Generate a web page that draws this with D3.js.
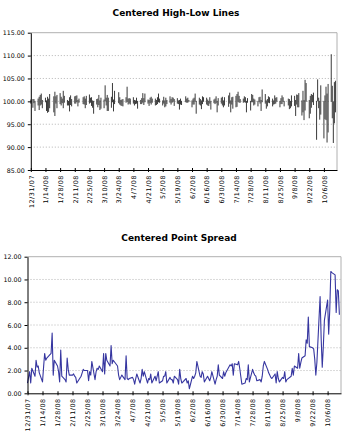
<!DOCTYPE html>
<html>
<head>
<meta charset="utf-8">
<script src="https://cdn.jsdelivr.net/npm/d3@7"></script>
<style>
  body { margin: 0; background: #fff; }
  svg { display: block; }
</style>
</head>
<body>
<svg id="chart" width="350" height="440"></svg>
<script>
// Trading calendar: weekdays from the first to the last session, market holidays skipped
const firstSession = "2007-12-31";
const lastSession = "2008-10-17";
const holidays = ["2008-01-01", "2008-01-21", "2008-02-18", "2008-03-21", "2008-05-26", "2008-07-04", "2008-09-01"];
const tickStepDays = 14;

const highLowTicks = [85, 90, 95, 100, 105, 110, 115];
const spreadTicks = [0, 2, 4, 6, 8, 10, 12];

// Daily high and low, centered on the open (= 100), one row per month
const highs = [
  100.4,100.5,100.5,100.1,100.6,101.0,101.4,101.7,100.3,100.8,100.2,101.0,100.6,101.6,101.1,102.1,101.1,101.4,101.8,101.0,100.6,102.3,
  101.2,100.3,100.1,100.9,101.3,100.5,101.1,101.2,101.3,100.3,100.6,100.9,101.1,100.6,101.2,101.5,100.8,100.9,100.2,100.1,
  100.5,100.6,101.4,100.2,100.8,100.4,103.5,100.8,101.4,100.8,101.0,104.0,100.4,102.3,102.0,100.9,100.3,100.4,100.5,100.9,
  103.2,100.6,100.7,100.6,100.9,100.3,100.2,100.8,100.1,100.3,100.7,101.8,100.7,101.7,100.4,100.3,100.8,101.0,100.6,100.6,100.3,100.9,
  101.7,100.6,100.2,101.0,100.2,100.8,100.3,101.1,100.5,100.9,100.8,100.5,100.7,100.2,100.3,100.6,100.1,101.1,100.6,100.8,100.3,
  100.2,100.6,100.8,101.7,100.1,100.8,100.5,100.2,101.1,100.9,100.8,100.4,100.1,100.9,100.1,100.4,100.6,101.1,100.1,100.7,100.8,
  101.0,100.2,100.9,101.3,101.9,100.2,100.9,101.0,101.2,101.6,102.1,101.2,100.5,100.6,101.1,100.9,100.1,100.7,100.1,101.6,101.4,100.6,
  100.4,100.1,100.9,101.0,100.3,102.6,101.6,100.2,100.5,101.1,100.9,100.6,100.2,101.3,100.8,100.9,100.1,100.7,101.3,100.9,100.1,
  100.6,100.5,100.1,101.3,101.2,100.3,101.5,101.4,101.8,100.2,102.3,100.3,104.7,104.0,100.3,101.2,101.6,101.4,101.9,100.1,104.8,
  100.8,100.1,103.5,100.1,101.3,103.2,101.7,103.8,110.3,103.4,100.0,104.2,104.5
];
const lows = [
  99.5,98.6,99.6,97.9,99.1,98.1,99.1,99.3,98.5,99.8,97.9,97.5,97.7,98.5,97.6,96.8,99.5,98.5,99.4,99.1,99.6,98.5,
  99.7,99.1,99.1,97.8,99.2,98.9,99.5,99.5,99.8,98.9,99.7,99.4,99.3,98.5,99.2,99.5,99.7,99.0,98.6,97.3,
  99.3,98.7,99.2,98.1,98.4,98.5,100.0,99.1,97.9,97.9,98.6,99.8,97.8,99.4,99.6,99.3,99.1,99.0,98.9,99.7,
  99.9,99.3,99.5,99.3,99.5,99.1,99.4,99.5,98.4,99.4,99.4,99.7,99.2,99.8,99.5,99.0,99.6,99.3,99.7,99.1,99.2,99.4,
  99.8,99.7,99.1,99.5,98.7,98.9,99.4,99.7,99.3,99.7,99.9,99.0,99.5,99.4,98.2,99.3,99.2,99.8,99.7,99.7,99.9,
  98.7,99.3,99.3,99.9,97.3,99.3,99.1,98.3,99.4,99.9,99.3,99.1,99.0,99.5,98.2,99.6,99.4,99.6,97.6,99.1,99.5,
  99.1,98.7,99.1,98.8,99.5,97.6,99.3,98.4,98.7,98.8,99.9,99.7,99.7,99.7,99.8,99.7,97.6,99.7,98.0,99.8,99.8,99.1,
  99.3,98.9,99.9,99.5,97.9,99.8,99.5,98.4,98.9,99.7,99.6,98.9,99.3,99.4,99.5,99.9,98.7,99.4,99.4,99.9,98.9,
  99.1,98.3,98.5,98.9,99.0,96.8,99.3,98.7,98.7,96.9,97.6,95.9,98.0,99.9,96.3,97.3,98.6,99.8,99.2,91.6,100.0,
  98.5,96.0,97.1,91.9,96.1,95.9,91.0,93.2,99.9,96.3,90.9,95.2,97.6
];

// Daily spread between high and low
const spread = [
  0.9,1.9,0.9,2.2,1.5,2.9,2.3,2.4,1.8,1.0,2.3,3.5,2.9,3.1,3.5,5.3,1.6,2.9,2.4,1.9,1.0,3.8,
  1.5,1.2,1.0,3.1,2.1,1.6,1.6,1.7,1.5,1.4,0.9,1.5,1.8,2.1,2.0,2.0,1.1,1.9,1.6,2.8,
  1.2,1.9,2.2,2.1,2.4,1.9,3.5,1.7,3.5,2.9,2.4,4.2,2.6,2.9,2.4,1.6,1.2,1.4,1.6,1.2,
  3.3,1.3,1.2,1.3,1.4,1.2,0.8,1.3,1.7,0.9,1.3,2.1,1.5,1.9,0.9,1.3,1.2,1.7,0.9,1.5,1.1,1.5,
  1.9,0.9,1.1,1.5,1.5,1.9,0.9,1.4,1.2,1.2,0.9,1.5,1.2,0.8,2.1,1.3,0.9,1.3,0.9,1.1,0.4,
  1.5,1.3,1.5,1.8,2.8,1.5,1.4,1.9,1.7,1.0,1.5,1.3,1.1,1.4,1.9,0.8,1.2,1.5,2.5,1.6,1.3,
  1.9,1.5,1.8,2.5,2.4,2.6,1.6,2.6,2.5,2.8,2.2,1.5,0.8,0.9,1.3,1.2,2.5,1.0,2.1,1.8,1.6,1.5,
  1.1,1.2,1.0,1.5,2.4,2.8,2.1,1.8,1.6,1.4,1.3,1.7,0.9,1.9,1.3,1.0,1.4,1.3,1.9,1.0,1.2,
  1.5,2.2,1.6,2.4,2.2,3.5,2.2,2.7,3.1,3.3,4.7,4.4,6.7,4.1,4.0,3.9,3.0,1.6,2.7,8.5,4.8,
  2.3,4.1,6.4,8.2,5.2,7.3,10.7,10.6,10.4,7.1,9.1,9.0,6.9
];

const parseDay = d3.timeParse("%Y-%m-%d");
const fmtDay = d3.timeFormat("%-m/%-d/%y");
const closed = new Set(holidays);
const sessions = d3.timeDay.range(parseDay(firstSession), d3.timeDay.offset(parseDay(lastSession), 1))
  .filter(d => d.getDay() !== 0 && d.getDay() !== 6 && !closed.has(d3.timeFormat("%Y-%m-%d")(d)));

// the date axis runs a little past the final session
const axisStart = parseDay(firstSession);
const axisEnd = d3.timeHour.offset(parseDay(lastSession), 36);
const tickDates = d3.range(0, 21).map(k => d3.timeDay.offset(axisStart, k * tickStepDays));

const svg = d3.select("#chart");
const font = "'DejaVu Sans', Verdana, sans-serif";

function frame(g, y, yTicks, box) {
  // dotted gridlines
  g.append("g").selectAll("line")
    .data(yTicks.slice(1, -1))
    .join("line")
    .attr("x1", box.left).attr("x2", box.right)
    .attr("y1", d => y(d)).attr("y2", d => y(d))
    .attr("stroke", "#b4b4b4").attr("stroke-width", 1)
    .attr("stroke-dasharray", "1 2");
  // plot border (top and right)
  g.append("path")
    .attr("d", `M${box.left},${box.top}H${box.right}V${box.bottom}`)
    .attr("fill", "none").attr("stroke", "#b0b0b0").attr("stroke-width", 1);
}

function axes(g, x, y, yTicks, box) {
  const ya = g.append("g")
    .attr("transform", `translate(${box.left},0)`)
    .call(d3.axisLeft(y).tickValues(yTicks).tickFormat(d3.format(".2f"))
      .tickSizeInner(3).tickSizeOuter(0).tickPadding(3));
  ya.select(".domain").attr("stroke", "#000");
  ya.selectAll(".tick line").attr("stroke", "#000");
  ya.selectAll("text").attr("font-family", font).attr("font-size", "6.3px").attr("fill", "#000");

  const xa = g.append("g")
    .attr("transform", `translate(0,${box.bottom})`)
    .call(d3.axisBottom(x).tickValues(tickDates).tickFormat(fmtDay).tickSizeInner(2).tickSizeOuter(0));
  xa.select(".domain").attr("stroke", "#000");
  xa.selectAll(".tick line").attr("y1", -2).attr("y2", 2).attr("stroke", "#000");
  xa.selectAll("text")
    .attr("font-family", font).attr("font-size", "6.4px").attr("fill", "#000")
    .attr("letter-spacing", "0.55px")
    .attr("text-anchor", "end")
    .attr("transform", "rotate(-90)")
    .attr("x", -5).attr("y", 0).attr("dy", "0.35em");
}

// ---- Centered High-Low Lines ----
{
  const box = { left: 30.8, right: 337, top: 32.7, bottom: 170 };
  const x = d3.scaleTime().domain([axisStart, axisEnd]).range([box.left, box.right]);
  const y = d3.scaleLinear().domain([85, 115]).range([box.bottom, box.top]);
  const g = svg.append("g");

  g.append("text")
    .attr("x", 176).attr("y", 16)
    .attr("text-anchor", "middle")
    .attr("font-family", font).attr("font-size", "9px").attr("font-weight", "bold")
    .text("Centered High-Low Lines");

  frame(g, y, highLowTicks, box);

  g.append("g").selectAll("line")
    .data(sessions)
    .join("line")
    .attr("x1", d => x(d)).attr("x2", d => x(d))
    .attr("y1", (d, i) => y(highs[i])).attr("y2", (d, i) => y(lows[i]))
    .attr("stroke", "#3a3a3a").attr("stroke-width", 1);

  axes(g, x, y, highLowTicks, box);
}

// ---- Centered Point Spread ----
{
  const box = { left: 27.5, right: 341, top: 256.7, bottom: 393.3 };
  const x = d3.scaleTime().domain([axisStart, axisEnd]).range([box.left, box.right]);
  const y = d3.scaleLinear().domain([0, 12]).range([box.bottom, box.top]);
  const g = svg.append("g");

  g.append("text")
    .attr("x", 179).attr("y", 241)
    .attr("text-anchor", "middle")
    .attr("font-family", font).attr("font-size", "9px").attr("font-weight", "bold")
    .text("Centered Point Spread");

  frame(g, y, spreadTicks, box);

  g.append("path")
    .datum(spread)
    .attr("d", d3.line().x((d, i) => x(sessions[i])).y(d => y(d)))
    .attr("fill", "none").attr("stroke", "#3636a0").attr("stroke-width", 1.1)
    .attr("stroke-linejoin", "round");

  axes(g, x, y, spreadTicks, box);
}
</script>
</body>
</html>
